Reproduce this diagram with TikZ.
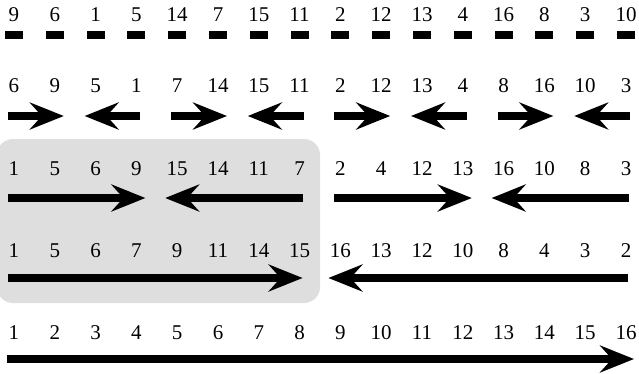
\documentclass[tikz,border=0pt]{standalone}
\usepackage{fontspec}
\setmainfont{Liberation Serif}
\usetikzlibrary{arrows.meta}

\begin{document}
\begin{tikzpicture}[x=1pt, y=-1pt,
  font=\fontsize{21}{21}\selectfont,
  num/.style={anchor=base, inner sep=0pt},
  bar/.style={fill=black, minimum width=18pt, minimum height=8pt, inner sep=0pt},
  arr/.style={line width=8.5pt, -{Stealth[length=34pt, width=27pt, inset=12pt]}},
  shade/.style={fill=black!13, rounded corners=16pt}]
\useasboundingbox (0,0) rectangle (639,373);
\fill[shade] (-3,139) rectangle (320,303);
% row 1: input
\foreach \v [count=\i from 0] in {9,6,1,5,14,7,15,11,2,12,13,4,16,8,3,10}
  \node[num] (r1-\i) at (14+40.8*\i,21) {\v};
\foreach \i in {0,...,15}
  \node[bar] (b1-\i) at (14+40.8*\i,35) {};
% row 2
\foreach \v [count=\i from 0] in {6,9,5,1,7,14,15,11,2,12,13,4,8,16,10,3}
  \node[num] (r2-\i) at (14+40.8*\i,92) {\v};
% row 3
\foreach \v [count=\i from 0] in {1,5,6,9,15,14,11,7,2,4,12,13,16,10,8,3}
  \node[num] (r3-\i) at (14+40.8*\i,175) {\v};
% row 4
\foreach \v [count=\i from 0] in {1,5,6,7,9,11,14,15,16,13,12,10,8,4,3,2}
  \node[num] (r4-\i) at (14+40.8*\i,257) {\v};
% row 5: sorted
\foreach \v [count=\i from 0] in {1,...,16}
  \node[num] (r5-\i) at (14+40.8*\i,339) {\v};
% arrow rows
\foreach \i in {0,...,15} {
  \coordinate (a2-\i) at (14+40.8*\i,116);
  \coordinate (a3-\i) at (14+40.8*\i,198);
  \coordinate (a4-\i) at (14+40.8*\i,278);
  \coordinate (a5-\i) at (14+40.8*\i,359);
}
\foreach \a/\b in {0/1,4/5,8/9,12/13}
  \draw[arr] ([xshift=-6pt]a2-\a) -- ([xshift=9pt]a2-\b);
\foreach \a/\b in {3/2,7/6,11/10,15/14}
  \draw[arr] ([xshift=4pt]a2-\a) -- ([xshift=-11pt]a2-\b);
\foreach \a/\b in {0/3,8/11}
  \draw[arr] ([xshift=-6pt]a3-\a) -- ([xshift=9pt]a3-\b);
\foreach \a/\b in {7/4,15/12}
  \draw[arr] ([xshift=3pt]a3-\a) -- ([xshift=-12pt]a3-\b);
\draw[arr] ([xshift=-6pt]a4-0) -- ([xshift=3pt]a4-7);
\draw[arr] ([xshift=2pt]a4-15) -- ([xshift=-12pt]a4-8);
\draw[arr] ([xshift=-7pt]a5-0) -- ([xshift=8pt]a5-15);
\end{tikzpicture}
\end{document}
